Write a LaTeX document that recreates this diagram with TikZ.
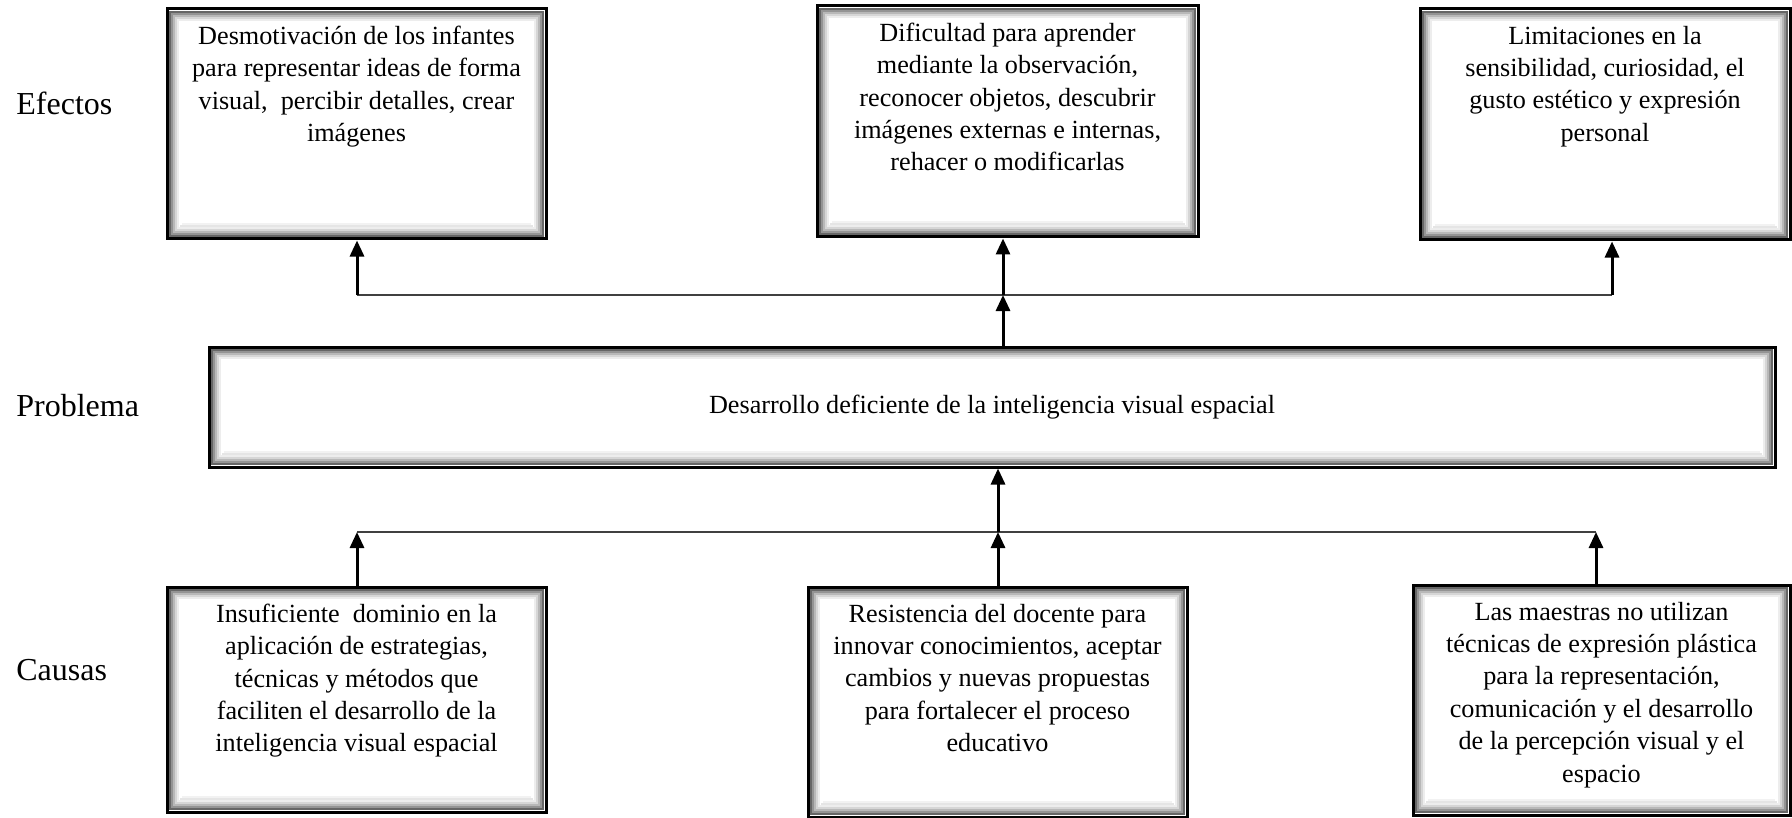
\documentclass[tikz,border=0pt]{standalone}
\usepackage{fontspec}
\setmainfont{Liberation Serif}
\usetikzlibrary{arrows.meta,positioning}

\begin{document}
\begin{tikzpicture}[x=0.5pt, y=-0.5pt,
    bevelbox/.style={draw=black, line width=1.5pt, fill=white, inner sep=0pt,
      path picture={
        \foreach \d/\c in {1.5/60,2.5/42,3.5/28,4.5/16,5.5/7}
          \draw[line width=1pt, black!\c]
            ([shift={(\d pt,-\d pt)}]path picture bounding box.north west) rectangle
            ([shift={(-\d pt,\d pt)}]path picture bounding box.south east);
        \foreach \d/\c in {6.5/10,7.5/5}
          \draw[line width=1pt, black!\c]
            ([shift={(\d pt,\d pt)}]path picture bounding box.south west) --
            ([shift={(-\d pt,\d pt)}]path picture bounding box.south east);
      }},
    boxtext/.style={align=center, inner sep=0pt, font=\fontsize{13.1}{16.2}\selectfont},
    sidelabel/.style={anchor=west, inner sep=0pt, font=\fontsize{16}{18}\selectfont},
    bar/.style={line width=1pt, black!75},
    uparrow/.style={line width=1.5pt, -{Triangle[length=8pt,width=7pt]}}
  ]
  \useasboundingbox (0,0) rectangle (1792,818);

  % row labels
  \node[sidelabel] (lefe) at (16,103) {Efectos};
  \node[sidelabel] (lpro) at (16,406) {Problema};
  \node[sidelabel] (lcau) at (16,670) {Causas};

  % effects
  \node[bevelbox, minimum width=189.5pt, minimum height=115pt] (e1) at (356.5,124) {};
  \node[bevelbox, minimum width=190.5pt, minimum height=115.5pt] (e2) at (1007.5,121.5) {};
  \node[bevelbox, minimum width=185pt, minimum height=115.5pt] (e3) at (1605,124.5) {};
  \node[boxtext, below=9pt of e1.north] (e1txt) {Desmotivación de los infantes\\para representar ideas de forma\\visual,~ percibir detalles, crear\\imágenes};
  \node[boxtext, below=9pt of e2.north] (e2txt) {Dificultad para aprender\\mediante la observación,\\reconocer objetos, descubrir\\imágenes externas e internas,\\rehacer o modificarlas};
  \node[boxtext, below=9pt of e3.north] (e3txt) {Limitaciones en la\\sensibilidad, curiosidad, el\\gusto estético y expresión\\personal};

  % problem
  \node[bevelbox, boxtext, minimum width=783pt, minimum height=60pt] (p) at (992,407) {Desarrollo deficiente de la inteligencia visual espacial};

  % causes
  \node[bevelbox, minimum width=189.5pt, minimum height=112.5pt] (c1) at (356.5,699.5) {};
  \node[bevelbox, minimum width=189.5pt, minimum height=115pt] (c2) at (997.5,702) {};
  \node[bevelbox, minimum width=188.5pt, minimum height=115pt] (c3) at (1601.5,700) {};
  \node[boxtext, below=9pt of c1.north] (c1txt) {Insuficiente~ dominio en la\\aplicación de estrategias,\\técnicas y métodos que\\faciliten el desarrollo de la\\inteligencia visual espacial};
  \node[boxtext, below=9pt of c2.north] (c2txt) {Resistencia del docente para\\innovar conocimientos, aceptar\\cambios y nuevas propuestas\\para fortalecer el proceso\\educativo};
  \node[boxtext, below=9pt of c3.north] (c3txt) {Las maestras no utilizan\\técnicas de expresión plástica\\para la representación,\\comunicación y el desarrollo\\de la percepción visual y el\\espacio};

  % junctions
  \coordinate (topL) at (357,295);
  \coordinate (topM) at (1003,295);
  \coordinate (topR) at (1612,295);
  \coordinate (lowL) at (357,532);
  \coordinate (lowM) at (998,532);
  \coordinate (lowR) at (1596,532);

  % effects side
  \draw[bar] (topL) -- (topR);
  \draw[uparrow] (topM |- p.north) -- (topM);
  \draw[uparrow] (topL) -- (topL |- e1.south);
  \draw[uparrow] (topM) -- (topM |- e2.south);
  \draw[uparrow] (topR) -- (topR |- e3.south);

  % causes side
  \draw[bar] (lowL) -- (lowR);
  \draw[uparrow] (lowL |- c1.north) -- (lowL);
  \draw[uparrow] (lowM |- c2.north) -- (lowM);
  \draw[uparrow] (lowR |- c3.north) -- (lowR);
  \draw[uparrow] (lowM) -- (lowM |- p.south);
\end{tikzpicture}
\end{document}
